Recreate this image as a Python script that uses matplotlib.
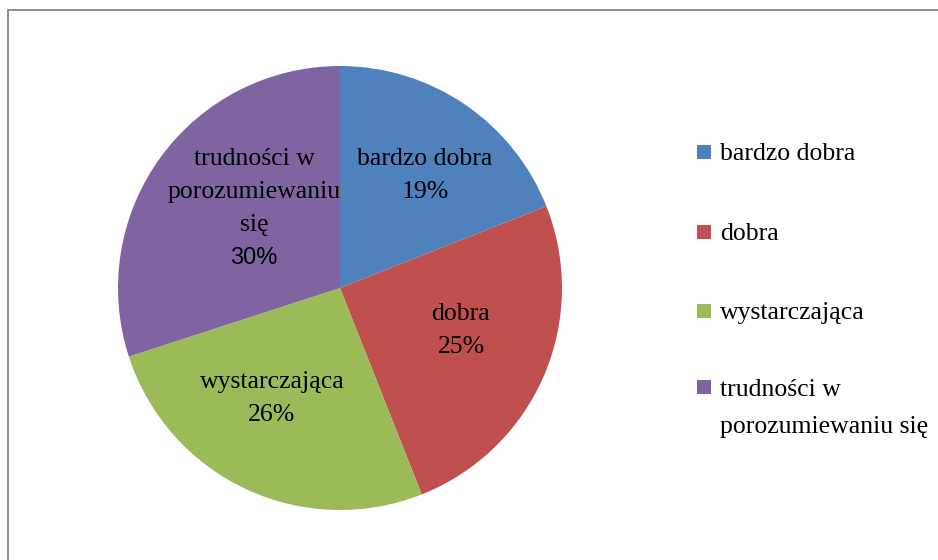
import numpy as np
import matplotlib.pyplot as plt
from matplotlib.patches import Rectangle

# Data
categories = ['bardzo dobra', 'dobra', 'wystarczająca', 'trudności w\nporozumiewaniu się']
slice_labels = ['bardzo dobra', 'dobra', 'wystarczająca', 'trudności w\nporozumiewaniu\nsię']
values = [19, 25, 26, 30]
colors = ['#4F81BD', '#C0504D', '#9BBB59', '#8064A2']

W, H = 938, 560
fig = plt.figure(figsize=(W / 100, H / 100), dpi=100)
fig.patch.set_facecolor('white')

# outer chart frame
fig.add_artist(Rectangle((8 / W, -0.05), 1.1, 1 - 9.5 / H + 0.05, transform=fig.transFigure,
                         fill=False, edgecolor='#868686', linewidth=1.3))

# pie: centre (340, 288) px, radius 222 px
cx, cy, r = 340, 288, 222
ax = fig.add_axes([(cx - r) / W, (H - cy - r) / H, 2 * r / W, 2 * r / H])
wedges, _ = ax.pie(values, colors=colors, startangle=90, counterclock=False,
                   radius=1.0, wedgeprops=dict(linewidth=0))
ax.set_xlim(-1, 1)
ax.set_ylim(-1, 1)
ax.set_aspect('equal')

serif = ['Liberation Serif', 'DejaVu Serif']
sans = ['Liberation Sans', 'DejaVu Sans']
fs = 18.5

# label placement: radial distance and angle offset (deg) from wedge middle
dist = [0.644, 0.574, 0.575, 0.534]
dang = [-2.3, 5.1, -7.0, -7.5]
pct_font = [serif, serif, serif, sans]
step = 33 / r   # line spacing in data units
total = sum(values)
for w, lab, v, d, da, pf in zip(wedges, slice_labels, values, dist, dang, pct_font):
    mid = np.deg2rad((w.theta1 + w.theta2) / 2 + da)
    x, y = d * np.cos(mid), d * np.sin(mid)
    lines = lab.split('\n')
    n = len(lines) + 1
    for i, t in enumerate(lines):
        ax.text(x, y + step * ((n - 1) / 2 - i), t, ha='center', va='center_baseline',
                fontsize=fs, family=serif)
    ax.text(x, y - step * (n - 1) / 2, f'{round(100 * v / total)}%', ha='center',
            va='center_baseline', fontsize=fs if pf is serif else 17, family=pf)

# legend
lx, ly = 697, [152, 232, 311, 387]
for c, lab, yy in zip(colors, categories, ly):
    fig.add_artist(Rectangle((lx / W, (H - yy - 7) / H), 14 / W, 14 / H,
                             transform=fig.transFigure, facecolor=c, edgecolor='none'))
    for i, t in enumerate(lab.split('\n')):
        fig.text(720 / W, (H - yy - 37 * i) / H, t, ha='left', va='center_baseline',
                 fontsize=fs, family=serif)

fig.savefig('out.png', dpi=100)
